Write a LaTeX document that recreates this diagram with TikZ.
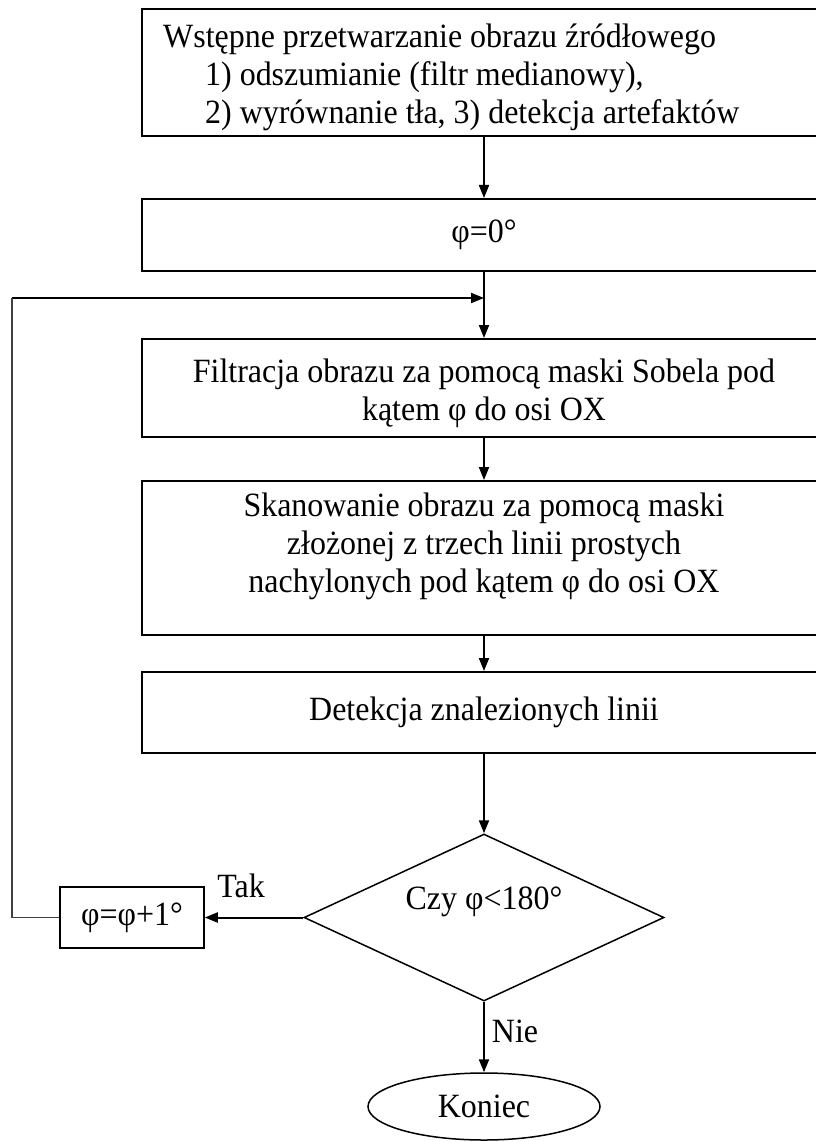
\documentclass[tikz,border=0pt]{standalone}
\usepackage{fontspec}
\setmainfont[FakeStretch=0.94]{Liberation Serif}
\usetikzlibrary{arrows.meta,shapes.geometric}
\newcommand{\flowfont}{\fontsize{34}{38}\selectfont}
\begin{document}
\begin{tikzpicture}[x=1pt,y=-1pt,
  txt/.style={font=\flowfont, inner sep=0pt},
  box/.style={draw, line width=2pt, minimum width=684pt, inner sep=0pt,
    font=\flowfont, align=center},
  flow/.style={line width=2pt, -{Triangle[length=13pt,width=10pt]}},
  thinline/.style={line width=1.2pt, draw=black!75}]
\useasboundingbox (0,0) rectangle (815,1142);

% process boxes (right edges run past the page)
\node[box, minimum height=127pt] (b1) at (484,72.5) {};
\node[txt, anchor=west, align=left] (t1) at (163,77)
  {Wstępne przetwarzanie obrazu źródłowego\\
   \hspace*{42pt}1) odszumianie (filtr medianowy),\\
   \hspace*{42pt}2) wyrównanie tła, 3) detekcja artefaktów};
\node[box, minimum height=72pt] (b2) at (484,235) {φ=0°};
\node[box, minimum height=98pt] (b3) at (484,388) {};
\node[txt, align=center] (t3) at (484,393)
  {Filtracja obrazu za pomocą maski Sobela pod\\kątem φ do osi OX};
\node[box, minimum height=154pt] (b4) at (484,558) {};
\node[txt, align=center] (t4) at (484,546)
  {Skanowanie obrazu za pomocą maski\\złożonej z trzech linii prostych\\nachylonych pod kątem φ do osi OX};
\node[box, minimum height=81pt] (b5) at (484,712.5) {Detekcja znalezionych linii};

% decision, increment and end
\node[diamond, draw, line width=1.5pt, minimum width=360pt, minimum height=167pt, inner sep=0pt] (d) at (484,917.5) {};
\node[txt] (t6) at (484,902) {Czy φ<180°};
\node[draw, line width=1.5pt, minimum width=144pt, minimum height=61pt, inner sep=0pt,
  font=\flowfont] (p) at (132,917.5) {φ=φ+1°};
\node[ellipse, draw, line width=1.5pt, minimum width=232pt, minimum height=67pt, inner sep=0pt,
  font=\flowfont] (e) at (484,1106.5) {Koniec};
\node[txt] (tak) at (241,886) {Tak};
\node[txt] (nie) at (515,1031) {Nie};

% loop return path
\coordinate (j) at (484,298);
\coordinate (ct) at (12,298);
\coordinate (cl) at (12,917.5);

% connectors
\draw[flow] (b1.south) -- (b2.north);
\draw[flow] (b2.south) -- (b3.north);
\draw[flow] (ct) -- (j);
\draw[thinline] (p.west) -- (cl) -- (ct);
\draw[flow] (b3.south) -- (b4.north);
\draw[flow] (b4.south) -- (b5.north);
\draw[flow] (b5.south) -- (d.north);
\draw[flow] (d.west) -- (p.east);
\draw[flow] (d.south) -- (e.north);
\end{tikzpicture}
\end{document}
